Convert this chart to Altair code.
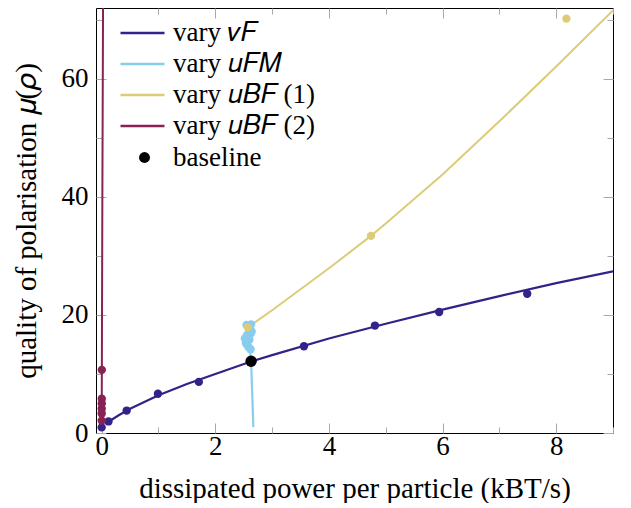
import altair as alt
import pandas as pd

# ---------------- data ----------------
SERIES = ["vary 𝑣𝐹", "vary 𝑢𝐹𝑀", "vary 𝑢𝐵𝐹 (1)", "vary 𝑢𝐵𝐹 (2)"]
COLORS = ["#332288", "#88CCEE", "#DDCC77", "#882255"]

# vary v_F : measured points and fitted curve
vF_pts_x = [0.0, 0.12, 0.44, 0.99, 1.71, 3.56, 4.81, 5.94, 7.49]
vF_pts_y = [0.95, 1.96, 3.8, 6.65, 8.66, 14.7, 18.2, 20.5, 23.6]
vF_fit_x = [0.12, 0.3, 0.5, 1.0, 1.5, 2.0, 2.63, 3.0, 4.0, 5.0, 6.0, 7.0, 8.0, 9.0]
vF_fit_y = [1.9, 3.0, 4.1, 6.4, 8.3, 10.0, 12.1, 13.2, 16.0, 18.5, 20.9, 23.2, 25.4, 27.4]

# vary u_FM : cluster of points and line down to the axis
uFM_pts_x = [2.55, 2.63, 2.60, 2.62, 2.56, 2.52, 2.60, 2.54, 2.58, 2.62, 2.55, 2.64]
uFM_pts_y = [18.3, 18.4, 17.5, 16.8, 16.6, 16.0, 15.8, 15.2, 14.6, 14.2, 15.6, 17.2]
uFM_line_x = [2.58, 2.60, 2.63, 2.67]
uFM_line_y = [18.0, 15.0, 12.1, 1.0]

# vary u_BF (1)
uBF1_pts_x = [2.57, 4.74, 8.18]
uBF1_pts_y = [17.9, 33.4, 70.2]
uBF1_fit_x = [2.57, 3.0, 4.0, 4.74, 5.0, 6.0, 7.0, 8.0, 9.0]
uBF1_fit_y = [17.9, 20.8, 27.9, 33.4, 35.5, 43.8, 52.8, 62.1, 71.6]

# vary u_BF (2)
uBF2_pts_x = [0.001, 0.001, 0.001, 0.002, 0.002, 0.003]
uBF2_pts_y = [2.1, 3.3, 4.1, 5.0, 5.8, 10.7]
uBF2_fit_x = [0.0, 0.003, 0.012, 0.024]
uBF2_fit_y = [2.1, 10.7, 40.0, 72.0]

# baseline
base_x = [2.63]
base_y = [12.15]
base_label = ["baseline"]

X_TICKS = [0, 2, 4, 6, 8]
X_MINOR = [1, 3, 5, 7, 9]
Y_TICKS = [0, 20, 40, 60]
Y_MINOR = [10, 30, 50, 70]


def frame(xs, ys, name):
    return pd.DataFrame({"x": xs, "y": ys, "series": name, "i": list(range(len(xs)))})


lines_a = pd.concat([frame(vF_fit_x, vF_fit_y, SERIES[0]), frame(uFM_line_x, uFM_line_y, SERIES[1])])
lines_b = pd.concat([frame(uBF1_fit_x, uBF1_fit_y, SERIES[2]), frame(uBF2_fit_x, uBF2_fit_y, SERIES[3])])
pts_a = pd.concat([frame(vF_pts_x, vF_pts_y, SERIES[0]), frame(uFM_pts_x, uFM_pts_y, SERIES[1])])
pts_b = pd.concat([frame(uBF1_pts_x, uBF1_pts_y, SERIES[2]), frame(uBF2_pts_x, uBF2_pts_y, SERIES[3])])
base = pd.DataFrame({"x": base_x, "y": base_y, "label": base_label})

# ---------------- styling ----------------
FONT = "Liberation Serif"
FS = 27
TFS = 29
TICK = "#a8a8a8"

xscale = alt.Scale(domain=[-0.1, 9], nice=False, zero=False)
yscale = alt.Scale(domain=[0, 72], nice=False, zero=False)


def tick_axis(orient, values, size):
    return alt.Axis(orient=orient, values=values, tickSize=size, offset=-size, ticks=True,
                    tickColor=TICK, tickWidth=1, labels=False, domain=False, grid=False)


color_enc = alt.Color(
    "series:N",
    scale=alt.Scale(domain=SERIES, range=COLORS),
    legend=alt.Legend(orient="none", legendX=23, legendY=9.5, title=None,
                      symbolType="stroke", symbolSize=1936, symbolStrokeWidth=2.5,
                      labelFont=FONT, labelFontSize=FS, labelColor="black",
                      labelOffset=7, rowPadding=0, clipHeight=31, padding=0, labelLimit=400),
)

shape_enc = alt.Shape(
    "label:N",
    scale=alt.Scale(domain=base_label, range=["circle"]),
    legend=alt.Legend(orient="none", legendX=35, legendY=136, title=None,
                      symbolSize=120, symbolFillColor="black", symbolStrokeColor="black",
                      symbolStrokeWidth=0, labelFont=FONT, labelFontSize=FS,
                      labelColor="black", labelOffset=15, padding=0, labelLimit=400),
)

x_label_axis = alt.Axis(orient="bottom", values=X_TICKS, ticks=False, tickSize=0, domain=False,
                        grid=False, labelPadding=0, labelFlush=False,
                        titleBaseline="alphabetic", titleY=64, titleFontSize=TFS)
y_label_axis = alt.Axis(orient="left", values=Y_TICKS, ticks=False, tickSize=0, domain=False,
                        grid=False, labelPadding=8, labelFlush=False,
                        titleBaseline="alphabetic", titleX=-61, titleFontSize=TFS)

L1 = alt.Chart(lines_a).mark_line(strokeWidth=2.2, clip=True).encode(
    x=alt.X("x:Q", scale=xscale, axis=x_label_axis,
            title="dissipated power per particle (kBT/s)"),
    y=alt.Y("y:Q", scale=yscale, axis=y_label_axis,
            title="quality of polarisation 𝜇(𝜌)"),
    color=color_enc,
    order="i:Q",
)

L2 = alt.Chart(lines_b).mark_line(strokeWidth=2, clip=True).encode(
    x=alt.X("x:Q", scale=xscale, axis=tick_axis("bottom", X_MINOR, 6), title=None),
    y=alt.Y("y:Q", scale=yscale, axis=tick_axis("left", Y_MINOR, 6), title=None),
    color=color_enc,
    order="i:Q",
)

L3 = alt.Chart(pts_a).mark_circle(size=70, opacity=1).encode(
    x=alt.X("x:Q", scale=xscale, axis=tick_axis("bottom", X_TICKS, 10), title=None),
    y=alt.Y("y:Q", scale=yscale, axis=tick_axis("left", Y_TICKS, 10), title=None),
    color=color_enc,
)

L4 = alt.Chart(pts_b).mark_circle(size=70, opacity=1).encode(
    x=alt.X("x:Q", scale=xscale, axis=tick_axis("top", X_TICKS, 10), title=None),
    y=alt.Y("y:Q", scale=yscale, axis=tick_axis("right", Y_TICKS, 10), title=None),
    color=color_enc,
)

L5 = alt.Chart(base).mark_point(filled=True, size=130, color="black", opacity=1).encode(
    x=alt.X("x:Q", scale=xscale, axis=tick_axis("top", X_MINOR, 6), title=None),
    y=alt.Y("y:Q", scale=yscale, axis=tick_axis("right", Y_MINOR, 6), title=None),
    shape=shape_enc,
)

chart = (
    alt.layer(L1, L2, L3, L4, L5)
    .resolve_axis(x="independent", y="independent")
    .properties(width=517, height=425,
                autosize=alt.AutoSizeParams(type="none"),
                padding={"left": 88, "top": 0, "right": 10, "bottom": 70},
                background="white")
    .configure_view(stroke="black", strokeWidth=1)
    .configure_axis(labelFont=FONT, titleFont=FONT, labelFontSize=FS, titleFontSize=TFS,
                    labelColor="black", titleColor="black", titleFontWeight="normal")
    .configure_legend(labelFont=FONT, labelFontSize=FS, labelColor="black")
)

chart.save("out.html", embed_options={"renderer": "svg", "actions": False})
